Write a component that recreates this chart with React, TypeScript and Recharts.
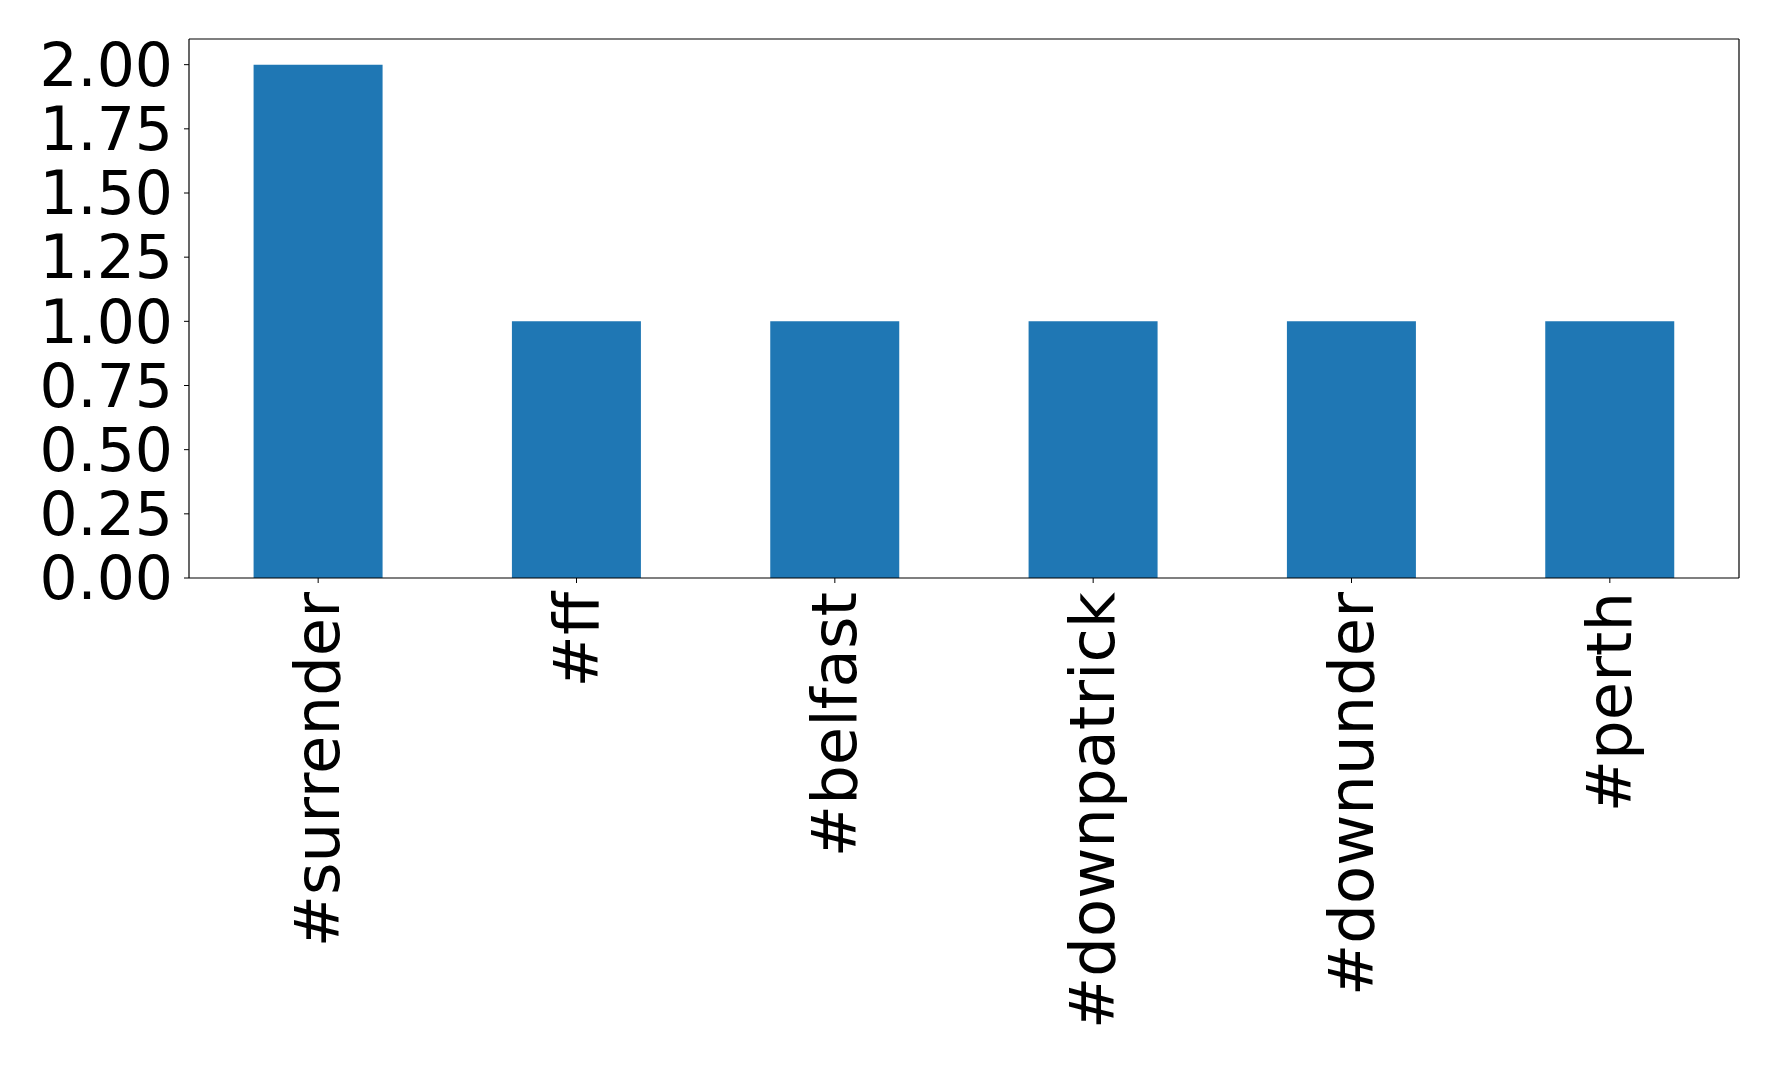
import React from "react";
import { BarChart, Bar, XAxis, YAxis } from "recharts";

const categories = ["#surrender", "#ff", "#belfast", "#downpatrick", "#downunder", "#perth"];
const counts = [2, 1, 1, 1, 1, 1];
const yTicks = [0, 0.25, 0.5, 0.75, 1.0, 1.25, 1.5, 1.75, 2.0];

const data = categories.map((c, i) => ({ tag: c, count: counts[i] }));

const FONT = "DejaVu Sans";
const FS_X = 62.5;
const FS_Y = 60;

const XTick = (props: any) => {
  const { x, y, payload } = props;
  return (
    <text
      x={x}
      y={y}
      transform={`rotate(-90 ${x} ${y})`}
      textAnchor="end"
      dy={21}
      fill="#000"
      fontFamily={FONT}
      fontSize={FS_X}
    >
      {payload.value}
    </text>
  );
};

export default function App() {
  return (
    <div style={{ position: "absolute", left: 0, top: 0, width: 1778, height: 1065, background: "#fff" }}>
      <BarChart
        width={1778}
        height={1065}
        data={data}
        margin={{ top: 38, right: 38, bottom: 0, left: 0 }}
        barCategoryGap="25%"
      >
        <XAxis
          dataKey="tag"
          height={487}
          interval={0}
          tickSize={5}
          tickMargin={9}
          tick={<XTick />}
          stroke="#000"
          axisLine={{ stroke: "#000", strokeWidth: 1.2 }}
          tickLine={{ stroke: "#000" }}
        />
        <XAxis
          xAxisId="top"
          orientation="top"
          dataKey="tag"
          height={1}
          tick={false}
          tickLine={false}
          stroke="#000"
          axisLine={{ stroke: "#000", strokeWidth: 1.2 }}
        />
        <YAxis
          width={189}
          domain={[0, 2.1]}
          ticks={yTicks}
          tickFormatter={(v: number) => v.toFixed(2)}
          tickSize={5}
          tickMargin={11}
          interval={0}
          stroke="#000"
          axisLine={{ stroke: "#000", strokeWidth: 1.2 }}
          tickLine={{ stroke: "#000" }}
          tick={{ fill: "#000", fontFamily: FONT, fontSize: FS_Y }}
        />
        <YAxis
          yAxisId="right"
          orientation="right"
          width={1}
          domain={[0, 2.1]}
          tick={false}
          tickLine={false}
          stroke="#000"
          axisLine={{ stroke: "#000", strokeWidth: 1.2 }}
        />
        <Bar dataKey="count" fill="#1f77b4" isAnimationActive={false} />
      </BarChart>
    </div>
  );
}
